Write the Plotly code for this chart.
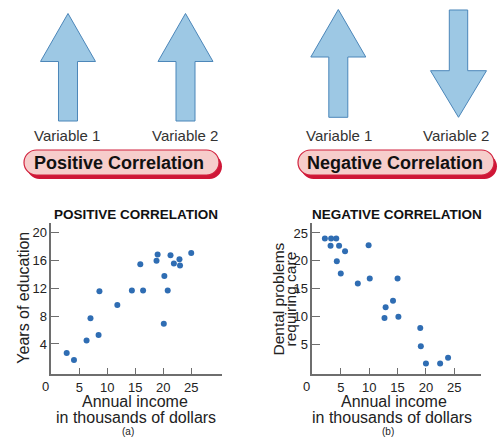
import plotly.graph_objects as go

W, H = 502, 438

# ---- data ----
pos_income = [2.75, 4.05, 6.3, 7.0, 8.45, 8.6, 11.8, 14.4, 15.9, 16.4,
              18.8, 19.0, 20.2, 20.1, 20.8, 21.3, 21.9, 22.9, 23.0, 25.0]
pos_education = [2.7, 1.7, 4.5, 7.7, 5.3, 11.6, 9.6, 11.7, 15.5, 11.7,
                 16.0, 16.9, 13.8, 6.9, 11.7, 16.8, 15.6, 16.2, 15.3, 17.1]

neg_income = [2.2, 3.3, 4.2, 3.2, 4.7, 5.75, 4.3, 5.0, 8.0, 9.9, 10.1,
              12.9, 12.7, 14.2, 15.0, 15.15, 19.0, 19.1, 20.0, 22.5, 23.9]
neg_dental = [24.0, 24.0, 24.0, 22.7, 22.7, 21.7, 19.9, 17.7, 15.9, 22.8, 16.8,
              11.6, 9.7, 12.8, 16.8, 9.9, 7.9, 4.6, 1.5, 1.5, 2.5]

x_ticks = [5, 10, 15, 20, 25]
pos_y_ticks = [4, 8, 12, 16, 20]
neg_y_ticks = [5, 10, 15, 20, 25]

FONT = "Liberation Sans, Arial, Helvetica, sans-serif"
DOT = "#2f6db3"
AXC = "#6e6e6e"
TXT = "#222222"


def P(x, y):
    return x / W, 1 - y / H


def path(points, close=True):
    s = ""
    for i, (x, y) in enumerate(points):
        px, py = P(x, y)
        s += ("M" if i == 0 else "L") + f"{px:.5f},{py:.5f} "
    return s + ("Z" if close else "")


def up_arrow(cx, tip, hb, bottom, hh=27.5, hs=9.5):
    return path([(cx, tip), (cx + hh, hb), (cx + hs, hb), (cx + hs, bottom),
                 (cx - hs, bottom), (cx - hs, hb), (cx - hh, hb)])


def down_arrow(cx, top, hb, tip, hh=28, hs=9.2):
    return path([(cx - hs, top), (cx + hs, top), (cx + hs, hb), (cx + hh, hb),
                 (cx, tip), (cx - hh, hb), (cx - hs, hb)])


def pill(x0, x1, y0, y1):
    r = (y1 - y0) / 2
    k = 0.5523 * r

    def pt(x, y):
        a, b = P(x, y)
        return f"{a:.5f},{b:.5f}"
    s = "M" + pt(x0 + r, y0) + " L" + pt(x1 - r, y0)
    s += " C" + pt(x1 - r + k, y0) + " " + pt(x1, y0 + r - k) + " " + pt(x1, y0 + r)
    s += " C" + pt(x1, y0 + r + k) + " " + pt(x1 - r + k, y1) + " " + pt(x1 - r, y1)
    s += " L" + pt(x0 + r, y1)
    s += " C" + pt(x0 + r - k, y1) + " " + pt(x0, y0 + r + k) + " " + pt(x0, y0 + r)
    s += " C" + pt(x0, y0 + r - k) + " " + pt(x0 + r - k, y0) + " " + pt(x0 + r, y0) + " Z"
    return s


fig = go.Figure()
fig.add_trace(go.Scatter(x=pos_income, y=pos_education, mode="markers",
                         marker=dict(size=6, color=DOT), xaxis="x", yaxis="y",
                         showlegend=False, hoverinfo="skip"))
fig.add_trace(go.Scatter(x=neg_income, y=neg_dental, mode="markers",
                         marker=dict(size=6, color=DOT), xaxis="x2", yaxis="y2",
                         showlegend=False, hoverinfo="skip"))

ax = dict(showline=True, linecolor=AXC, linewidth=1.5, ticks="inside",
          tickcolor=AXC, tickwidth=1, showgrid=False, zeroline=False,
          tickfont=dict(family=FONT, size=13, color=TXT), fixedrange=True)

ydom = [1 - 374.3 / H, 1 - 223 / H]

fig.update_layout(
    width=W, height=H, autosize=False,
    margin=dict(l=0, r=0, t=0, b=0),
    paper_bgcolor="white", plot_bgcolor="white",
    xaxis=dict(ax, domain=[51.3 / W, 222 / W], range=[0, 30.5], anchor="y",
               tickvals=x_ticks, ticklen=7),
    yaxis=dict(ax, domain=ydom, range=[-0.37, 21.43], anchor="x",
               tickvals=pos_y_ticks, ticklen=8),
    xaxis2=dict(ax, domain=[312.4 / W, 481 / W], range=[0, 29.7], anchor="y2",
                tickvals=x_ticks, ticklen=7),
    yaxis2=dict(ax, domain=ydom, range=[-0.46, 26.8], anchor="x2",
                tickvals=neg_y_ticks, ticklen=8),
)

shapes = []
ARROW_FILL = "#9dc8e4"
ARROW_LINE = "#4b86b9"
for p in [up_arrow(68, 13.5, 61.5, 121), up_arrow(185.5, 13.5, 61.5, 121),
          up_arrow(338.3, 9.5, 57, 117.3), down_arrow(458.5, 10, 70.7, 117.3)]:
    shapes.append(dict(type="path", xref="paper", yref="paper", path=p,
                       fillcolor=ARROW_FILL, line=dict(color=ARROW_LINE, width=1)))

for (x0, x1) in [(24, 219), (298, 494)]:
    shapes.append(dict(type="path", xref="paper", yref="paper",
                       path=pill(x0 + 3, x1 + 3, 150 + 4, 175 + 4),
                       fillcolor="#cf1637", line=dict(width=0)))
    shapes.append(dict(type="path", xref="paper", yref="paper",
                       path=pill(x0, x1, 150, 175),
                       fillcolor="#f6cdcb", line=dict(color="#d2233f", width=1.2)))
fig.update_layout(shapes=shapes)

ann = []


def text(s, x, y, size, bold=False, angle=0, color=TXT):
    px, py = P(x, y)
    ann.append(dict(text=f"<b>{s}</b>" if bold else s, x=px, y=py,
                    xref="paper", yref="paper", xanchor="center", yanchor="middle",
                    showarrow=False, textangle=angle, borderpad=0,
                    font=dict(family=FONT, size=size, color=color)))


text("Variable 1", 67, 135, 15, color="#333333")
text("Variable 2", 185, 135, 15, color="#333333")
text("Variable 1", 339, 135, 15, color="#333333")
text("Variable 2", 456, 135, 15, color="#333333")
text("Positive Correlation", 119, 163, 18, bold=True, color="#111111")
text("Negative Correlation", 395, 163, 18, bold=True, color="#111111")

text("POSITIVE CORRELATION", 136, 214, 13.5, bold=True, color="#111111")
text("NEGATIVE CORRELATION", 396.5, 214, 13.5, bold=True, color="#111111")

text("Years of education", 22.7, 298, 16, angle=-90)
text("Dental problems", 277.5, 299, 15.5, angle=-90)
text("requiring care", 289.5, 299, 15.5, angle=-90)

text("Annual income", 135, 401.5, 16)
text("in thousands of dollars", 135.8, 417.5, 16)
text("(a)", 128.3, 431.5, 10)
text("Annual income", 394.3, 401.5, 16)
text("in thousands of dollars", 391.8, 417.5, 16)
text("(b)", 387.7, 431, 10)

text("0", 45.5, 386, 13)
text("0", 306, 386, 13)

fig.update_layout(annotations=ann)

fig.write_html("out.html", config={"displayModeBar": False},
               post_script="document.body.style.margin='0';document.body.style.padding='0';")
